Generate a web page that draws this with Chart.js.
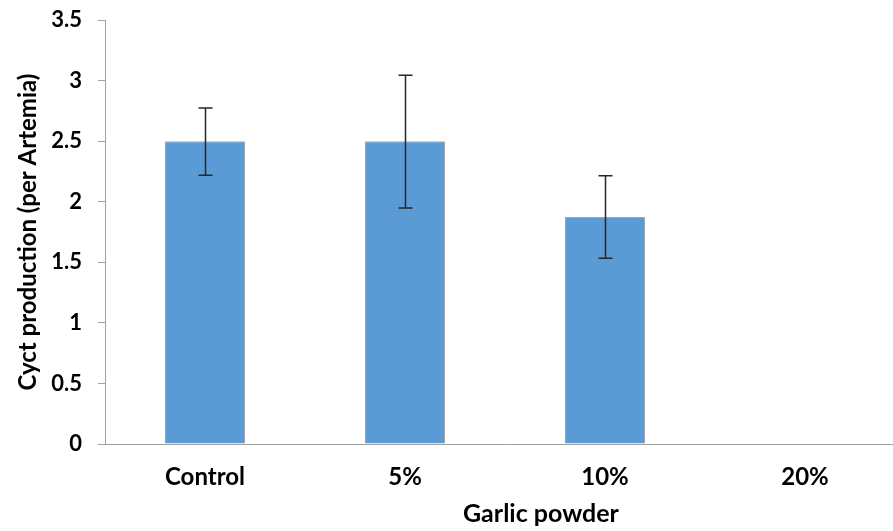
<!DOCTYPE html>
<html>
<head>
<meta charset="utf-8">
<script src="https://cdn.jsdelivr.net/npm/chart.js@4/dist/chart.umd.min.js"></script>
<style>
  html, body { margin: 0; padding: 0; background: #fff; overflow: hidden; }
  #wrap { position: relative; width: 910px; height: 540px; margin-top: -9px; }
</style>
</head>
<body>
<div id="wrap"><canvas id="c"></canvas></div>
<script>
const categories = ["Control", "5%", "10%", "20%"];
const values = [2.5, 2.5, 1.875, 0];
const errLow = [2.22, 1.95, 1.535, 0];
const errHigh = [2.775, 3.045, 2.215, 0];
const yTickLabels = ["0", "0.5", "1", "1.5", "2", "2.5", "3", "3.5"];
const yTitle = "Cyct production (per Artemia)";
const xTitle = "Garlic powder";

const FONT = "Lato, 'Open Sans', sans-serif";

const errorBars = {
  id: 'errorBars',
  afterDatasetsDraw(chart) {
    const ctx = chart.ctx;
    const x = chart.scales.x, y = chart.scales.y;
    ctx.save();
    ctx.strokeStyle = '#262626';
    ctx.lineWidth = 1.5;
    categories.forEach((c, i) => {
      if (errHigh[i] === errLow[i]) return;
      const px = Math.round(x.getPixelForValue(i)) + 0.5;
      const yh = y.getPixelForValue(errHigh[i]);
      const yl = y.getPixelForValue(errLow[i]);
      ctx.beginPath();
      ctx.moveTo(px, yh); ctx.lineTo(px, yl);
      ctx.moveTo(px - 7, yh); ctx.lineTo(px + 7, yh);
      ctx.moveTo(px - 7, yl); ctx.lineTo(px + 7, yl);
      ctx.stroke();
    });
    ctx.restore();
  }
};

const xTitlePlugin = {
  id: 'xTitlePlugin',
  afterDraw(chart) {
    const ctx = chart.ctx;
    const a = chart.chartArea;
    ctx.save();
    ctx.font = "bold 25px " + FONT;
    ctx.fillStyle = '#000';
    ctx.textAlign = 'left';
    ctx.textBaseline = 'alphabetic';
    ctx.fillText(xTitle, a.left + 358, chart.height - 9);
    ctx.restore();
  }
};

new Chart(document.getElementById('c'), {
  type: 'bar',
  data: {
    labels: categories,
    datasets: [{
      data: values,
      backgroundColor: '#5B9BD5',
      borderColor: '#A5A5A5',
      borderWidth: 1,
      barPercentage: 0.4,
      categoryPercentage: 1.0
    }]
  },
  options: {
    responsive: true,
    maintainAspectRatio: false,
    animation: false,
    events: [],
    layout: { padding: { top: 8, right: 5, left: 0, bottom: 0 } },
    plugins: { legend: { display: false }, tooltip: { enabled: false } },
    scales: {
      x: {
        afterFit(s) { s.height = 87; },
        grid: { display: true, drawOnChartArea: false, drawTicks: false },
        border: { display: true, color: '#A0A0A0', width: 1 },
        ticks: { color: '#000', padding: 19, font: { family: FONT, size: 24, weight: 'bold' } }
      },
      y: {
        min: 0, max: 3.5,
        afterFit(s) { s.width = 105; },
        ticks: {
          stepSize: 0.5, color: '#000', padding: 16,
          font: { family: FONT, size: 22, weight: 'bold' },
          callback: (v, i) => yTickLabels[i]
        },
        grid: { display: true, drawOnChartArea: false, drawTicks: true, tickLength: 7, color: '#A0A0A0' },
        border: { display: true, color: '#A0A0A0', width: 1 },
        title: {
          display: true, text: yTitle, color: '#000',
          padding: { top: 14, bottom: 0 },
          font: { family: FONT, size: 24, weight: 'bold' }
        }
      }
    }
  },
  plugins: [errorBars, xTitlePlugin]
});
</script>
</body>
</html>
